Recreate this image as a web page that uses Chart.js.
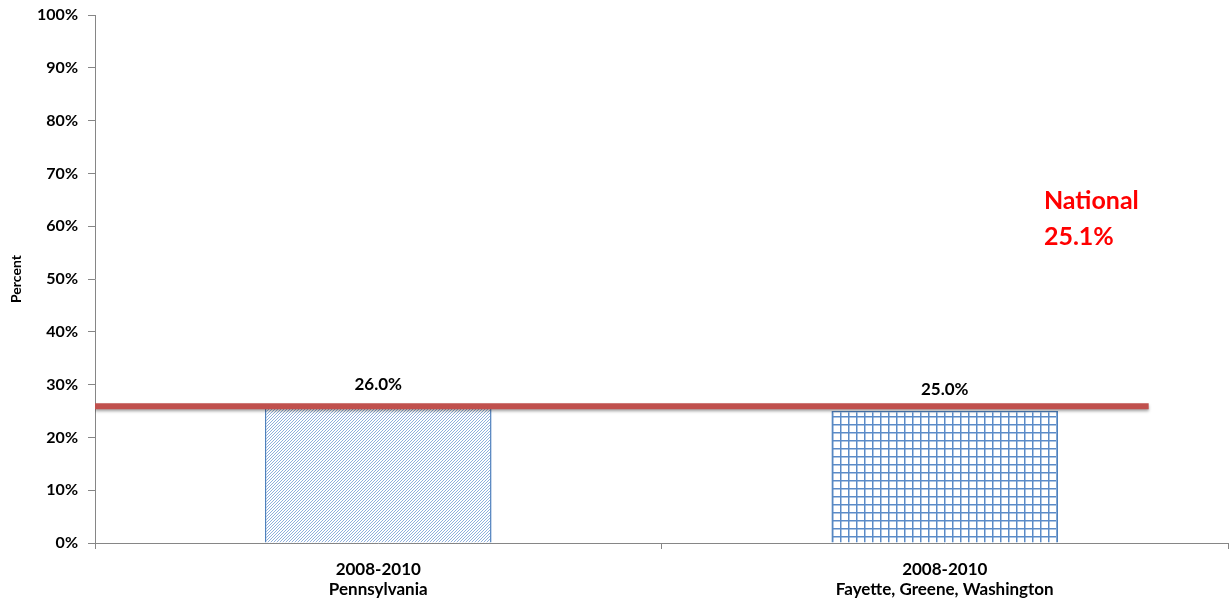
<!DOCTYPE html>
<html>
<head>
<meta charset="utf-8">
<script src="https://cdn.jsdelivr.net/npm/chart.js@4"></script>
<style>
  html, body { margin: 0; padding: 0; background: #fff; }
  #wrap { width: 1230px; height: 600px; position: relative; }
</style>
</head>
<body>
<div id="wrap"><canvas id="c"></canvas></div>
<script>
// ---- data ----
const categories = [["2008-2010", "Pennsylvania"], ["2008-2010", "Fayette, Greene, Washington"]];
const barValues = [26.0, 25.0];
const barLabels = ["26.0%", "25.0%"];
const nationalLineX = [-0.5, 1.36];
const nationalLineY = [25.9, 25.9];
const nationalText = ["National", "25.1%"];
const nationalTextPos = [1.175, 64.8];
const yTicks = [0, 10, 20, 30, 40, 50, 60, 70, 80, 90, 100];

const FONT = "Lato, 'Liberation Sans', sans-serif";
const BLUE = "#4F81BD";
const AXIS = "#868686";

function hatchPattern() {
  const s = 3;
  const cv = document.createElement('canvas');
  cv.width = s; cv.height = s;
  const g = cv.getContext('2d');
  g.fillStyle = '#fff'; g.fillRect(0, 0, s, s);
  g.fillStyle = '#8FB0DC';
  g.fillRect(2, 0, 1, 1);
  g.fillRect(1, 1, 1, 1);
  g.fillRect(0, 2, 1, 1);
  return g.createPattern(cv, 'repeat');
}
function gridPattern() {
  const s = 8;
  const cv = document.createElement('canvas');
  cv.width = s; cv.height = s;
  const g = cv.getContext('2d');
  g.fillStyle = '#fff'; g.fillRect(0, 0, s, s);
  g.fillStyle = '#5B8BC8';
  g.fillRect(0, 0, s, 1.5);
  g.fillRect(0, 0, 1.5, s);
  return g.createPattern(cv, 'repeat');
}

const shadowPlugin = {
  id: 'shadowLine',
  beforeDatasetDraw(chart, args) {
    if (args.index === 1) {
      const ctx = chart.ctx;
      ctx.save();
      ctx.shadowColor = 'rgba(0,0,0,0.35)';
      ctx.shadowBlur = 3;
      ctx.shadowOffsetY = 2;
    }
  },
  afterDatasetDraw(chart, args) {
    if (args.index === 1) chart.ctx.restore();
  }
};

const labelPlugin = {
  id: 'labels',
  afterDatasetsDraw(chart) {
    const ctx = chart.ctx;
    const meta = chart.getDatasetMeta(0);
    ctx.save();
    ctx.font = "bold 17px " + FONT;
    ctx.fillStyle = '#000';
    ctx.textAlign = 'center';
    ctx.textBaseline = 'middle';
    meta.data.forEach((bar, i) => {
      ctx.fillText(barLabels[i], bar.x, bar.y - 21);
    });
    const xs = chart.scales.x2, ys = chart.scales.y;
    ctx.font = "bold 25px " + FONT;
    ctx.fillStyle = '#FF0000';
    ctx.textAlign = 'left';
    const px = xs.getPixelForValue(nationalTextPos[0]);
    const py = ys.getPixelForValue(nationalTextPos[1]);
    ctx.fillText(nationalText[0], px, py);
    ctx.fillText(nationalText[1], px, py + 36);
    ctx.restore();
  }
};

new Chart(document.getElementById('c'), {
  data: {
    labels: categories,
    datasets: [
      {
        type: 'bar',
        data: barValues,
        backgroundColor: [hatchPattern(), gridPattern()],
        borderColor: BLUE,
        borderWidth: 1.5,
        barPercentage: 0.4,
        categoryPercentage: 1.0,
        grouped: false,
        xAxisID: 'x',
        order: 2
      },
      {
        type: 'line',
        data: nationalLineX.map((x, i) => ({ x: x, y: nationalLineY[i] })),
        xAxisID: 'x2',
        borderColor: '#C0504D',
        borderWidth: 6,
        borderCapStyle: 'butt',
        pointRadius: 0,
        fill: false,
        order: 1
      }
    ]
  },
  options: {
    responsive: true,
    maintainAspectRatio: false,
    animation: false,
    layout: { padding: { top: 15, right: 2, left: 0, bottom: 0 } },
    plugins: { legend: { display: false }, tooltip: { enabled: false } },
    scales: {
      x: {
        type: 'category',
        offset: true,
        grid: { display: true, drawOnChartArea: false, offset: true, tickLength: 6, color: AXIS },
        border: { color: AXIS, width: 1 },
        ticks: { font: { family: FONT, size: 17, weight: 'bold', lineHeight: 1.2 }, color: '#000', padding: 10, maxRotation: 0 },
        afterFit(scale) { scale.height = 57; }
      },
      x2: {
        type: 'linear',
        min: -0.5, max: 1.5,
        display: false
      },
      y: {
        min: 0, max: 100,
        afterBuildTicks(scale) { scale.ticks = yTicks.map(v => ({ value: v })); },
        grid: { display: true, drawOnChartArea: false, tickLength: 7, color: AXIS },
        border: { color: AXIS, width: 1 },
        ticks: {
          font: { family: FONT, size: 16, weight: 'bold' }, color: '#000', padding: 10,
          callback: v => v + '%'
        },
        title: { display: true, text: 'Percent', font: { family: FONT, size: 14, weight: 'bold' }, color: '#000', padding: { top: 8, bottom: 0 } },
        afterFit(scale) { scale.width = 95; scale.paddingTop = 0; scale.paddingBottom = 0; }
      }
    }
  },
  plugins: [shadowPlugin, labelPlugin]
});
</script>
</body>
</html>
